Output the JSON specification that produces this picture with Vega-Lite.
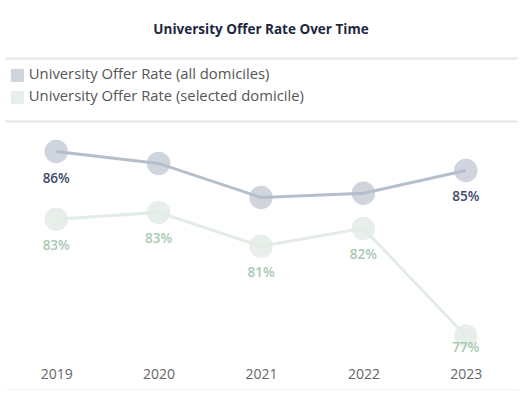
{
  "$schema": "https://vega.github.io/schema/vega-lite/v6.json",
  "width": 512,
  "height": 332,
  "padding": {"left": 5, "right": 5, "top": 22, "bottom": 0},
  "background": "white",
  "title": {
    "text": "University Offer Rate Over Time",
    "font": "Open Sans",
    "fontSize": 13.5,
    "fontWeight": "bold",
    "color": "#1d2740",
    "anchor": "middle",
    "offset": 22
  },
  "config": {
    "view": {"stroke": null},
    "font": "Open Sans"
  },
  "data": {
    "values": [
      {"year": "2019", "series": "University Offer Rate (all domiciles)", "rate": 0.8589},
      {"year": "2020", "series": "University Offer Rate (all domiciles)", "rate": 0.8532},
      {"year": "2021", "series": "University Offer Rate (all domiciles)", "rate": 0.8368},
      {"year": "2022", "series": "University Offer Rate (all domiciles)", "rate": 0.8388},
      {"year": "2023", "series": "University Offer Rate (all domiciles)", "rate": 0.8498},
      {"year": "2019", "series": "University Offer Rate (selected domicile)", "rate": 0.8263},
      {"year": "2020", "series": "University Offer Rate (selected domicile)", "rate": 0.8296},
      {"year": "2021", "series": "University Offer Rate (selected domicile)", "rate": 0.8133},
      {"year": "2022", "series": "University Offer Rate (selected domicile)", "rate": 0.8219},
      {"year": "2023", "series": "University Offer Rate (selected domicile)", "rate": 0.7700}
    ]
  },
  "encoding": {
    "x": {
      "field": "year",
      "type": "ordinal",
      "scale": {"type": "point", "padding": 0.5},
      "axis": {
        "title": null,
        "labelAngle": 0,
        "ticks": false,
        "domainColor": "#e6e6e6",
        "domainWidth": 2,
        "labelPadding": -23,
        "labelFontSize": 14,
        "labelColor": "#666666",
        "labelFont": "Open Sans"
      }
    },
    "y": {
      "field": "rate",
      "type": "quantitative",
      "scale": {"domain": [0.744, 0.904], "nice": false, "zero": false},
      "axis": {
        "title": null,
        "values": [0.8736, 0.904],
        "grid": true,
        "gridColor": "#e6e6e6",
        "gridWidth": 2,
        "domain": false,
        "ticks": false,
        "labels": false
      }
    }
  },
  "layer": [
    {
      "mark": {"type": "circle", "size": 550, "opacity": 1},
      "encoding": {
        "color": {
          "field": "series",
          "type": "nominal",
          "scale": {
            "domain": ["University Offer Rate (all domiciles)", "University Offer Rate (selected domicile)"],
            "range": ["#cfd4dd", "#e8efea"]
          },
          "legend": {
            "title": null,
            "orient": "none",
            "legendX": 5,
            "legendY": 10,
            "symbolType": "square",
            "symbolSize": 169,
            "symbolOpacity": 1,
            "symbolStrokeWidth": 0,
            "labelFontSize": 14.8,
            "labelColor": "#555555",
            "labelFont": "Open Sans",
            "labelOffset": 4,
            "labelLimit": 400,
            "rowPadding": 6,
            "padding": 0
          }
        }
      }
    },
    {
      "mark": {"type": "line", "strokeWidth": 3},
      "encoding": {
        "stroke": {
          "field": "series",
          "type": "nominal",
          "scale": {
            "domain": ["University Offer Rate (all domiciles)", "University Offer Rate (selected domicile)"],
            "range": ["#b5bfcc", "#e3ece5"]
          },
          "legend": null
        }
      }
    },
    {
      "transform": [
        {"filter": "(datum.series == 'University Offer Rate (all domiciles)' && (datum.year == '2019' || datum.year == '2023')) || (datum.series == 'University Offer Rate (selected domicile)' && datum.year != '2023')"}
      ],
      "mark": {"type": "text", "dy": 27, "fontSize": 13.5, "fontWeight": 600, "font": "Open Sans"},
      "encoding": {
        "text": {"field": "rate", "type": "quantitative", "format": ".0%"},
        "fill": {
          "field": "series",
          "type": "nominal",
          "scale": {
            "domain": ["University Offer Rate (all domiciles)", "University Offer Rate (selected domicile)"],
            "range": ["#3c4a68", "#a9c8b1"]
          },
          "legend": null
        }
      }
    },
    {
      "transform": [
        {"filter": "datum.series == 'University Offer Rate (selected domicile)' && datum.year == '2023'"}
      ],
      "mark": {"type": "text", "dy": 12, "fontSize": 13.5, "fontWeight": 600, "font": "Open Sans"},
      "encoding": {
        "text": {"field": "rate", "type": "quantitative", "format": ".0%"},
        "fill": {
          "field": "series",
          "type": "nominal",
          "scale": {
            "domain": ["University Offer Rate (all domiciles)", "University Offer Rate (selected domicile)"],
            "range": ["#3c4a68", "#a9c8b1"]
          },
          "legend": null
        }
      }
    }
  ]
}
